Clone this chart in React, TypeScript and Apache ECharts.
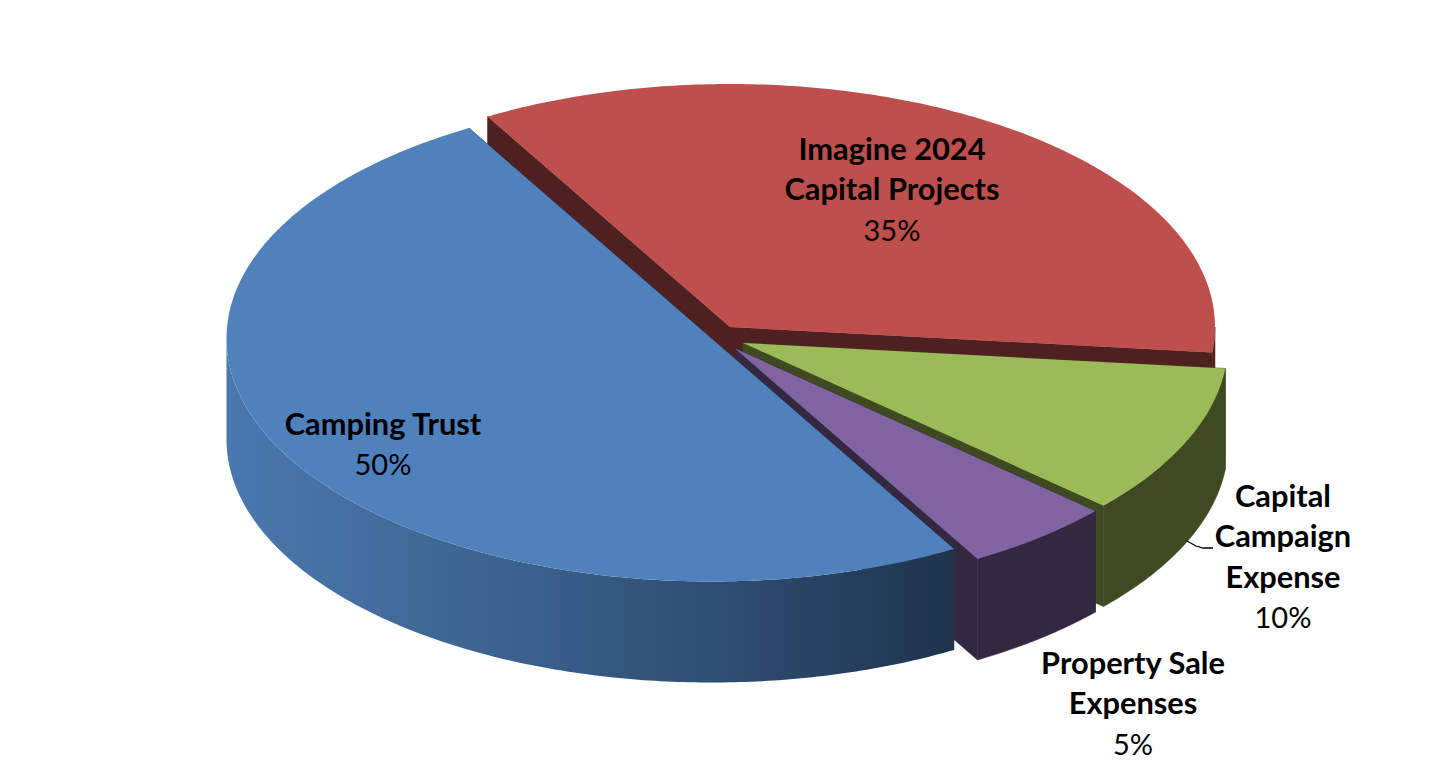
import React, { useEffect, useRef } from "react";
import * as echarts from "echarts";

const categories = ["Imagine 2024\nCapital Projects", "Capital\nCampaign\nExpense", "Property Sale\nExpenses", "Camping Trust"];
const shares = [35, 10, 5, 50];

const topColors = ["#be4f4d", "#9bbb59", "#8064a2", "#4f81bd"];
const wallColors: any[] = [
  "#4e201f",
  "#3f4a23",
  "#332840",
  new echarts.graphic.LinearGradient(0, 0, 1, 0, [
    { offset: 0, color: "#4a78af" },
    { offset: 0.35, color: "#3d6490" },
    { offset: 0.7, color: "#2d4c70" },
    { offset: 1, color: "#1f334d" },
  ]),
];
const centers = [[730, 327], [743, 343], [735, 348.5], [711.5, 338.5]];
const labelAnchors = [[892, 148], [1283, 495], [1133, 662], [383, 423]];
const RX = 485;
const RY = 243;
const DEPTH = 101;
const START_DEG = 120;
const LINE_H = 40.5;
const FONT = "Lato, Carlito, sans-serif";

function renderItem(params: any) {
  const i = params.dataIndex;
  const total = shares.reduce((a, b) => a + b, 0);
  const before = shares.slice(0, i).reduce((a, b) => a + b, 0);
  const a0 = START_DEG - (before / total) * 360;
  const a1 = a0 - (shares[i] / total) * 360;
  const [cx, cy] = centers[i];
  const arcOf = (from: number, to: number) => {
    const pts: number[][] = [];
    const steps = Math.max(8, Math.round(Math.abs(from - to) * 1.5));
    for (let s = 0; s <= steps; s++) {
      const t = ((from + ((to - from) * s) / steps) * Math.PI) / 180;
      pts.push([cx + RX * Math.cos(t), cy - RY * Math.sin(t)]);
    }
    return pts;
  };
  const arc = arcOf(a0, a1);
  const wallFrom = Math.min(a0, 0);
  const wallTo = Math.max(a1, -180);
  const wallArc = arcOf(wallFrom, wallTo);
  const down = (p: number[]) => [p[0], p[1] + DEPTH];
  const apex = [cx, cy];
  const first = arc[0];
  const last = arc[arc.length - 1];
  const wall = wallColors[i];
  const flat = typeof wall === "string" ? wall : "#1f334d";
  const poly = (points: number[][], fill: any, seam = false) => ({
    type: "polygon",
    shape: { points },
    style: seam ? { fill, stroke: fill, lineWidth: 0.5 } : { fill, stroke: null },
    silent: true,
  });
  const children: any[] = [
    poly([apex, first, down(first), down(apex)], flat, true),
    poly([apex, last, down(last), down(apex)], flat, true),
    poly([...wallArc, ...wallArc.map(down).reverse()], wall, typeof wall === "string"),
    poly([apex, ...arc], topColors[i]),
  ];
  const lines = categories[i].split("\n");
  const [lx, ly] = labelAnchors[i];
  lines.forEach((text, k) => {
    children.push({
      type: "text",
      silent: true,
      style: { x: lx, y: ly + k * LINE_H, text, fill: "#000", font: `bold 30.8px ${FONT}`, textAlign: "center", textVerticalAlign: "middle" },
    });
  });
  children.push({
    type: "text",
    silent: true,
    style: { x: lx, y: ly + lines.length * LINE_H, text: `${shares[i]}%`, fill: "#000", font: `29px ${FONT}`, textAlign: "center", textVerticalAlign: "middle" },
  });
  return { type: "group", children };
}

export default function App() {
  const ref = useRef<HTMLDivElement>(null);
  useEffect(() => {
    document.body.style.margin = "0";
    const chart = echarts.init(ref.current!, null, { renderer: "svg" });
    chart.setOption({
      animation: false,
      backgroundColor: "#fff",
      graphic: [
        {
          type: "polyline",
          z: 10,
          silent: true,
          shape: { points: [[1187, 541], [1196, 546], [1203, 548], [1213, 548]] },
          style: { stroke: "#000", lineWidth: 1.3, fill: null },
        },
      ],
      series: [
        {
          type: "custom",
          coordinateSystem: "none",
          renderItem,
          data: shares,
          silent: true,
        },
      ],
    });
    return () => chart.dispose();
  }, []);
  return <div ref={ref} style={{ width: 1431, height: 775 }} />;
}
